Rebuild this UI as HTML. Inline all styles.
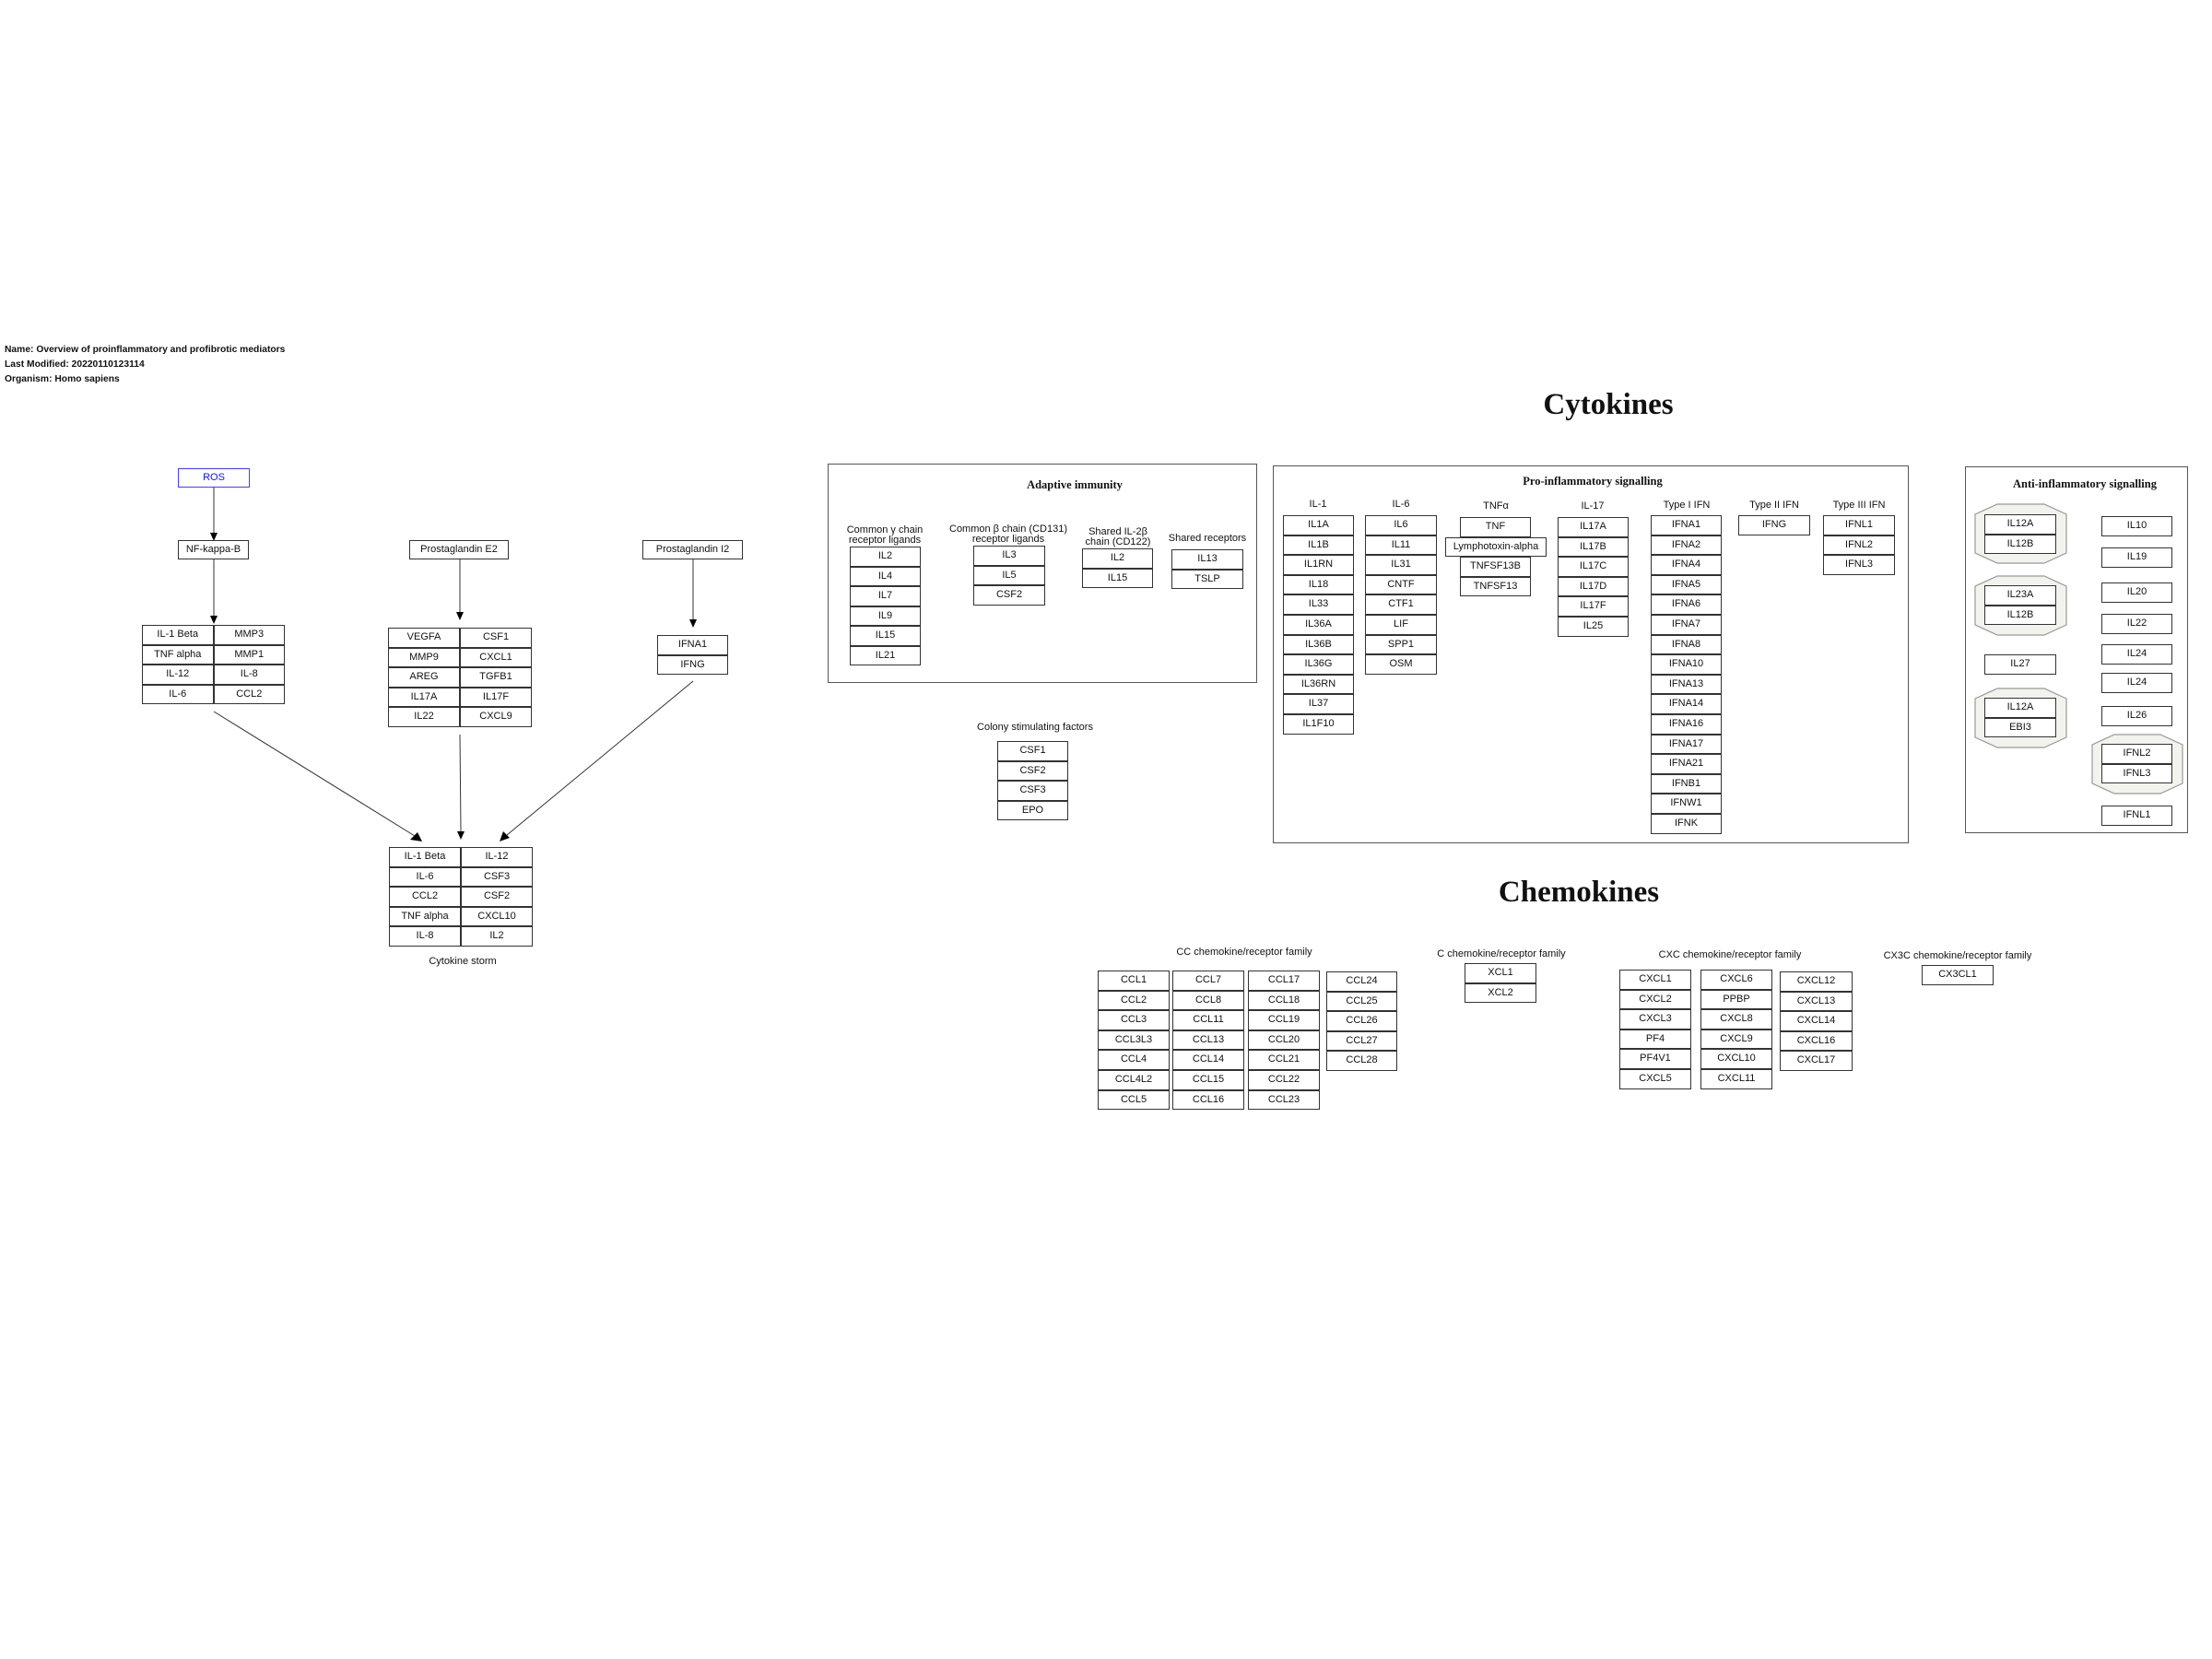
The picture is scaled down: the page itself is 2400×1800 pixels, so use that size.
<!DOCTYPE html>
<html><head><meta charset="utf-8">
<style>
html,body{margin:0;padding:0;background:#fff;}
#root{position:relative;width:2400px;height:1800px;overflow:hidden;font-family:"Liberation Sans",Arial,sans-serif;color:#111;}
.t{position:absolute;width:400px;text-align:center;font-size:11px;line-height:12px;white-space:nowrap;}
.h{position:absolute;font-weight:bold;font-size:10.3px;left:5px;white-space:nowrap;}
.sec{position:absolute;width:400px;text-align:center;font-family:"Liberation Serif",serif;font-weight:bold;font-size:12.5px;line-height:14px;}
.big{position:absolute;width:400px;text-align:center;font-family:"Liberation Serif",serif;font-weight:bold;font-size:33px;line-height:36px;}
.g{position:absolute;display:grid;grid-auto-rows:21.6px;}
.g div{border:1px solid #333;box-sizing:border-box;text-align:center;font-size:11px;line-height:19.6px;background:#fff;white-space:nowrap;}
.b{position:absolute;border:1.5px solid #555;box-sizing:border-box;}
</style></head><body><div id="root">

<div class="h" style="top:374px">Name: Overview of proinflammatory and profibrotic mediators</div>
<div class="h" style="top:390px">Last Modified: 20220110123114</div>
<div class="h" style="top:406px">Organism: Homo sapiens</div>

<svg width="2400" height="1800" style="position:absolute;left:0;top:0">
<g stroke="#333" stroke-width="1" fill="none">
<line x1="232" y1="529" x2="232" y2="578"/>
<line x1="232" y1="607" x2="232" y2="668"/>
<line x1="499" y1="607" x2="499" y2="664"/>
<line x1="752" y1="607" x2="752" y2="672"/>
<line x1="232" y1="772" x2="450" y2="907"/>
<line x1="499" y1="797" x2="500" y2="902"/>
<line x1="752" y1="739" x2="550" y2="906"/>
</g>
<g fill="#000">
<polygon points="228,578 236,578 232,587"/>
<polygon points="228,668 236,668 232,677"/>
<polygon points="495,664 503,664 499,673"/>
<polygon points="748,672 756,672 752,681"/>
<polygon points="445,911 453,903 458,913"/>
<polygon points="496,902 504,902 500,911"/>
<polygon points="546,902 553,909 542,913"/>
</g>
<g fill="#f3f3ee" stroke="#999" stroke-width="1.2">
<polygon points="2167,547 2218,547 2242,558 2242,600 2218,611 2167,611 2143,600 2143,558"/>
<polygon points="2167,625 2218,625 2242,636 2242,678 2218,689 2167,689 2143,678 2143,636"/>
<polygon points="2167,747 2218,747 2242,758 2242,800 2218,811 2167,811 2143,800 2143,758"/>
<polygon points="2294,797 2344,797 2368,808 2368,850 2344,861 2294,861 2270,850 2270,808"/>
</g>
</svg>

<!-- left pathway -->
<div class="g" style="left:193px;top:508px;width:78px;grid-auto-rows:21px"><div style="border:1.5px solid #4040ff;color:#1010ff">ROS</div></div>
<div class="g" style="left:193px;top:586px;width:77px;grid-auto-rows:21px"><div>NF-kappa-B</div></div>
<div class="g" style="left:444px;top:586px;width:108px;grid-auto-rows:21px"><div>Prostaglandin E2</div></div>
<div class="g" style="left:697px;top:586px;width:109px;grid-auto-rows:21px"><div>Prostaglandin I2</div></div>

<div class="g" style="left:154px;top:678px;width:155px;grid-template-columns:1fr 1fr;grid-auto-rows:21.5px">
<div>IL-1 Beta</div><div>MMP3</div><div>TNF alpha</div><div>MMP1</div><div>IL-12</div><div>IL-8</div><div>IL-6</div><div>CCL2</div></div>
<div class="g" style="left:421px;top:681px;width:156px;grid-template-columns:1fr 1fr">
<div>VEGFA</div><div>CSF1</div><div>MMP9</div><div>CXCL1</div><div>AREG</div><div>TGFB1</div><div>IL17A</div><div>IL17F</div><div>IL22</div><div>CXCL9</div></div>
<div class="g" style="left:713px;top:689px;width:77px"><div>IFNA1</div><div>IFNG</div></div>
<div class="g" style="left:422px;top:919px;width:156px;grid-template-columns:1fr 1fr">
<div>IL-1 Beta</div><div>IL-12</div><div>IL-6</div><div>CSF3</div><div>CCL2</div><div>CSF2</div><div>TNF alpha</div><div>CXCL10</div><div>IL-8</div><div>IL2</div></div>
<div class="t" style="left:302px;top:1037px">Cytokine storm</div>

<!-- titles -->
<div class="big" style="left:1545px;top:421px">Cytokines</div>
<div class="big" style="left:1513px;top:950px">Chemokines</div>

<!-- adaptive -->
<div class="b" style="left:898px;top:503px;width:466px;height:238px"></div>
<div class="sec" style="left:966px;top:519px">Adaptive immunity</div>
<div class="t" style="left:760px;top:570px;line-height:11px">Common γ chain<br>receptor ligands</div>
<div class="t" style="left:894px;top:569px;line-height:11px">Common β chain (CD131)<br>receptor ligands</div>
<div class="t" style="left:1013px;top:572px;line-height:11px">Shared IL-2β<br>chain (CD122)</div>
<div class="t" style="left:1110px;top:578px">Shared receptors</div>
<div class="g" style="left:922px;top:593px;width:77px;grid-auto-rows:21.5px"><div>IL2</div><div>IL4</div><div>IL7</div><div>IL9</div><div>IL15</div><div>IL21</div></div>
<div class="g" style="left:1056px;top:592px;width:78px"><div>IL3</div><div>IL5</div><div>CSF2</div></div>
<div class="g" style="left:1174px;top:595px;width:77px"><div>IL2</div><div>IL15</div></div>
<div class="g" style="left:1271px;top:596px;width:78px"><div>IL13</div><div>TSLP</div></div>
<div class="t" style="left:923px;top:783px">Colony stimulating factors</div>
<div class="g" style="left:1082px;top:804px;width:77px"><div>CSF1</div><div>CSF2</div><div>CSF3</div><div>EPO</div></div>

<!-- pro-inflammatory -->
<div class="b" style="left:1381px;top:505px;width:690px;height:410px"></div>
<div class="sec" style="left:1528px;top:515px">Pro-inflammatory signalling</div>
<div class="t" style="left:1230px;top:541px">IL-1</div>
<div class="t" style="left:1320px;top:541px">IL-6</div>
<div class="t" style="left:1423px;top:543px">TNFα</div>
<div class="t" style="left:1528px;top:543px">IL-17</div>
<div class="t" style="left:1630px;top:542px">Type I IFN</div>
<div class="t" style="left:1725px;top:542px">Type II IFN</div>
<div class="t" style="left:1817px;top:542px">Type III IFN</div>
<div class="g" style="left:1392px;top:559px;width:77px"><div>IL1A</div><div>IL1B</div><div>IL1RN</div><div>IL18</div><div>IL33</div><div>IL36A</div><div>IL36B</div><div>IL36G</div><div>IL36RN</div><div>IL37</div><div>IL1F10</div></div>
<div class="g" style="left:1481px;top:559px;width:78px"><div>IL6</div><div>IL11</div><div>IL31</div><div>CNTF</div><div>CTF1</div><div>LIF</div><div>SPP1</div><div>OSM</div></div>
<div class="g" style="left:1584px;top:561px;width:77px"><div>TNF</div></div>
<div class="g" style="left:1568px;top:582.6px;width:110px"><div>Lymphotoxin-alpha</div></div>
<div class="g" style="left:1584px;top:604.2px;width:77px"><div>TNFSF13B</div><div>TNFSF13</div></div>
<div class="g" style="left:1690px;top:561px;width:77px"><div>IL17A</div><div>IL17B</div><div>IL17C</div><div>IL17D</div><div>IL17F</div><div>IL25</div></div>
<div class="g" style="left:1791px;top:559px;width:77px"><div>IFNA1</div><div>IFNA2</div><div>IFNA4</div><div>IFNA5</div><div>IFNA6</div><div>IFNA7</div><div>IFNA8</div><div>IFNA10</div><div>IFNA13</div><div>IFNA14</div><div>IFNA16</div><div>IFNA17</div><div>IFNA21</div><div>IFNB1</div><div>IFNW1</div><div>IFNK</div></div>
<div class="g" style="left:1886px;top:559px;width:78px"><div>IFNG</div></div>
<div class="g" style="left:1978px;top:559px;width:78px"><div>IFNL1</div><div>IFNL2</div><div>IFNL3</div></div>

<!-- anti-inflammatory -->
<div class="b" style="left:2132px;top:506px;width:242px;height:398px"></div>
<div class="sec" style="left:2062px;top:518px">Anti-inflammatory signalling</div>
<div class="g" style="left:2153px;top:558px;width:78px"><div>IL12A</div><div>IL12B</div></div>
<div class="g" style="left:2153px;top:635px;width:78px"><div>IL23A</div><div>IL12B</div></div>
<div class="g" style="left:2153px;top:710px;width:78px"><div>IL27</div></div>
<div class="g" style="left:2153px;top:757px;width:78px"><div>IL12A</div><div>EBI3</div></div>
<div class="g" style="left:2280px;top:560px;width:77px"><div>IL10</div></div>
<div class="g" style="left:2280px;top:594px;width:77px"><div>IL19</div></div>
<div class="g" style="left:2280px;top:632px;width:77px"><div>IL20</div></div>
<div class="g" style="left:2280px;top:666px;width:77px"><div>IL22</div></div>
<div class="g" style="left:2280px;top:699px;width:77px"><div>IL24</div></div>
<div class="g" style="left:2280px;top:730px;width:77px"><div>IL24</div></div>
<div class="g" style="left:2280px;top:766px;width:77px"><div>IL26</div></div>
<div class="g" style="left:2280px;top:807px;width:77px"><div>IFNL2</div><div>IFNL3</div></div>
<div class="g" style="left:2280px;top:874px;width:77px"><div>IFNL1</div></div>

<!-- chemokines -->
<div class="t" style="left:1150px;top:1027px">CC chemokine/receptor family</div>
<div class="t" style="left:1429px;top:1029px">C chemokine/receptor family</div>
<div class="t" style="left:1677px;top:1030px">CXC chemokine/receptor family</div>
<div class="t" style="left:1924px;top:1031px">CX3C chemokine/receptor family</div>
<div class="g" style="left:1191px;top:1053px;width:78px"><div>CCL1</div><div>CCL2</div><div>CCL3</div><div>CCL3L3</div><div>CCL4</div><div>CCL4L2</div><div>CCL5</div></div>
<div class="g" style="left:1272px;top:1053px;width:78px"><div>CCL7</div><div>CCL8</div><div>CCL11</div><div>CCL13</div><div>CCL14</div><div>CCL15</div><div>CCL16</div></div>
<div class="g" style="left:1354px;top:1053px;width:78px"><div>CCL17</div><div>CCL18</div><div>CCL19</div><div>CCL20</div><div>CCL21</div><div>CCL22</div><div>CCL23</div></div>
<div class="g" style="left:1439px;top:1054px;width:77px"><div>CCL24</div><div>CCL25</div><div>CCL26</div><div>CCL27</div><div>CCL28</div></div>
<div class="g" style="left:1589px;top:1045px;width:78px"><div>XCL1</div><div>XCL2</div></div>
<div class="g" style="left:1757px;top:1052px;width:78px"><div>CXCL1</div><div>CXCL2</div><div>CXCL3</div><div>PF4</div><div>PF4V1</div><div>CXCL5</div></div>
<div class="g" style="left:1845px;top:1052px;width:78px"><div>CXCL6</div><div>PPBP</div><div>CXCL8</div><div>CXCL9</div><div>CXCL10</div><div>CXCL11</div></div>
<div class="g" style="left:1931px;top:1054px;width:79px"><div>CXCL12</div><div>CXCL13</div><div>CXCL14</div><div>CXCL16</div><div>CXCL17</div></div>
<div class="g" style="left:2085px;top:1047px;width:78px"><div>CX3CL1</div></div>

</div></body></html>
